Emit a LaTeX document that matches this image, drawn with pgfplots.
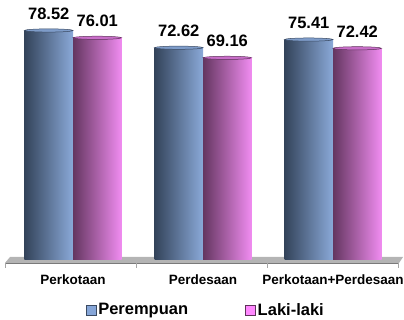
\documentclass[border=0pt]{standalone}
\usepackage{fontspec}
\setmainfont{Liberation Sans}
\usepackage{pgfplots}
\pgfplotsset{compat=1.18}
\definecolor{bdark}{HTML}{33435A}
\definecolor{blight}{HTML}{8AA9D8}
\definecolor{pdark}{HTML}{643660}
\definecolor{plight}{HTML}{F08CF0}
\definecolor{btop}{HTML}{7E9CC9}
\definecolor{ptop}{HTML}{C86EC8}
\definecolor{bline}{HTML}{3A4A62}
\definecolor{pline}{HTML}{5E325A}
\definecolor{legblue}{HTML}{86A6D8}
\definecolor{legpink}{HTML}{FF88FF}
\definecolor{floorgray}{HTML}{B4B4B4}
\definecolor{floordark}{HTML}{7A7A7A}
\pgfdeclareplotmark{cyltop}{%
  \pgfpathellipse{\pgfpointorigin}{\pgfpoint{24.2pt}{0pt}}{\pgfpoint{0pt}{1.6pt}}%
  \pgfusepathqfillstroke}
\pgfplotsset{
  bluebar/.style={ybar, forget plot, bar width=48.5pt, bar shift=-24.25pt, draw=none, left color=bdark, right color=blight},
  pinkbar/.style={ybar, forget plot, bar width=48.5pt, bar shift=24.25pt, draw=none, left color=pdark, right color=plight},
}
\begin{document}
\begin{tikzpicture}
\useasboundingbox (0,0) rectangle (404pt,320pt);
\fill[floorgray] (10pt,63pt) -- (403pt,63pt) -- (399pt,57pt) -- (5pt,57pt) -- cycle;
\draw[floordark, line width=0.8pt] (5pt,57pt) -- (399pt,57pt);
\foreach \x in {5,136,267,398} \draw[gray!70, line width=0.6pt] (\x pt,57pt) -- (\x pt,52pt);
\begin{axis}[
  at={(8pt,60pt)}, anchor=south west, scale only axis,
  width=390pt, height=260pt,
  xmin=-0.5, xmax=2.5, ymin=0, ymax=88.95,
  axis line style={draw=none},
  ytick=\empty,
  xtick={0,1,2},
  xticklabels={Perkotaan,Perdesaan,Perkotaan+Perdesaan},
  major tick length=0pt,
  xticklabel style={font=\bfseries\fontsize{13.5}{14}\selectfont, anchor=base, yshift=-25pt},
  /pgf/number format/assume math mode=true,
  clip=false,
  legend style={at={(axis description cs:0.507,-0.192)}, anchor=center, draw=none, fill=none,
    font=\bfseries\fontsize{16.5}{18}\selectfont,
    /tikz/every even column/.append style={column sep=55pt}},
  legend columns=2,
  legend cell align=left,
]
% Perempuan bars
\addplot[bluebar] coordinates {(0,78.52)};
\addplot[bluebar] coordinates {(1,72.62)};
\addplot[bluebar] coordinates {(2,75.41)};
% Laki-laki bars
\addplot[pinkbar] coordinates {(0,76.01)};
\addplot[pinkbar] coordinates {(1,69.16)};
\addplot[pinkbar] coordinates {(2,72.42)};
% cylinder tops and value labels
\addplot[only marks, forget plot, mark=cyltop,
  mark options={xshift=-24.25pt, fill=btop, draw=bline, line width=0.5pt},
  nodes near coords={\pgfmathprintnumber[fixed,precision=2,fixed zerofill]{\pgfplotspointmeta}},
  every node near coord/.append style={font=\bfseries\fontsize{16.5}{18}\selectfont, anchor=center, yshift=17pt}]
  coordinates {(0,78.52) (1,72.62) (2,75.41)};
\addplot[only marks, forget plot, mark=cyltop,
  mark options={xshift=24.25pt, fill=ptop, draw=pline, line width=0.5pt},
  nodes near coords={\pgfmathprintnumber[fixed,precision=2,fixed zerofill]{\pgfplotspointmeta}},
  every node near coord/.append style={font=\bfseries\fontsize{16.5}{18}\selectfont, anchor=center, yshift=17pt}]
  coordinates {(0,76.01) (1,69.16) (2,72.42)};
\addlegendimage{legend image code/.code={\draw[fill=legblue, draw=bline, line width=0.6pt] (0pt,-5pt) rectangle (10pt,5pt);}}
\addlegendentry{Perempuan}
\addlegendimage{legend image code/.code={\draw[fill=legpink, draw=pline, line width=0.6pt] (0pt,-5pt) rectangle (10pt,5pt);}}
\addlegendentry{Laki-laki}
\end{axis}
\end{tikzpicture}
\end{document}
